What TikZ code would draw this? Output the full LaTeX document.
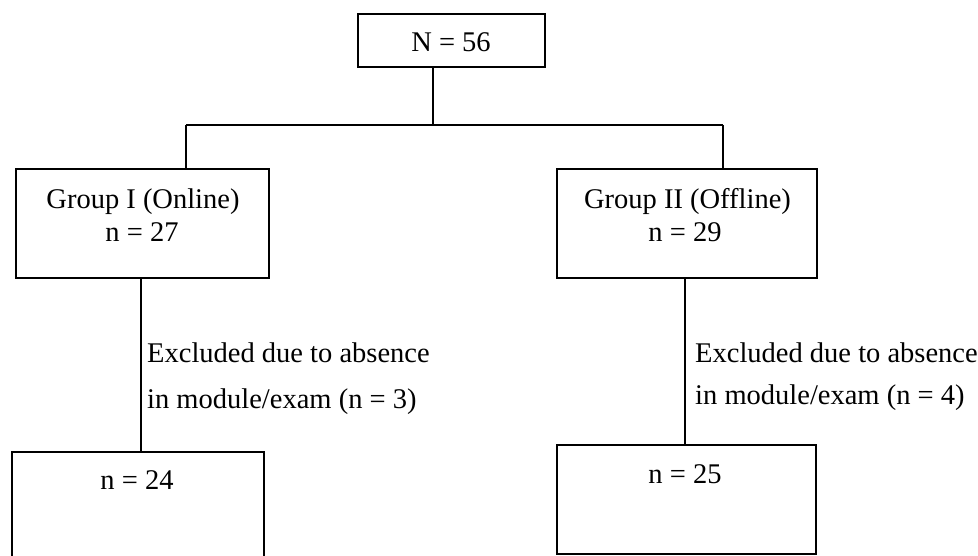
\documentclass[tikz,border=0pt]{standalone}
\usepackage{fontspec}
\setmainfont[Ligatures=CommonOff]{Liberation Serif}
\begin{document}
\begin{tikzpicture}[x=1pt,y=-1pt,
  box/.style={draw,line width=2.2pt,rectangle,inner sep=0pt,fill=none},
  txt/.style={inner sep=0pt,font=\fontsize{28.5}{34}\selectfont},
  link/.style={line width=2.2pt}]
\useasboundingbox (0,0) rectangle (978,556);
% boxes
\node[box,minimum width=187pt,minimum height=53pt] (top) at (451.5,40.5) {};
\node[box,minimum width=253pt,minimum height=109pt] (g1) at (142.5,223.5) {};
\node[box,minimum width=260pt,minimum height=109pt] (g2) at (687,223.5) {};
\node[box,minimum width=252pt,minimum height=112pt] (b1) at (138,508) {};
\node[box,minimum width=259pt,minimum height=109pt] (b2) at (686.5,499.5) {};
% texts
\node[txt] (ttop) at (451,42) {N = 56};
\node[txt] (tg1a) at (143,202) {Group I (Online)};
\node[txt] (tg1b) at (142,232) {n = 27};
\node[txt] (tg2a) at (687.5,202) {Group II (Offline)};
\node[txt] (tg2b) at (685,232) {n = 29};
\node[txt,anchor=west] (ex1a) at (147,353) {Excluded due to absence};
\node[txt,anchor=west] (ex1b) at (147,402) {in module/exam (n = 3)};
\node[txt,anchor=west] (ex2a) at (695,353) {Excluded due to absence};
\node[txt,anchor=west] (ex2b) at (695,398) {in module/exam (n = 4)};
\node[txt] (tb1) at (137,480) {n = 24};
\node[txt] (tb2) at (685,474) {n = 25};
% connectors
\coordinate (jt) at (433,125);
\coordinate (jl) at (186,125);
\coordinate (jr) at (723,125);
\draw[link] (jt |- top.south) -- (jt);
\draw[link] (jl) -- (jr);
\draw[link] (jl) -- (jl |- g1.north);
\draw[link] (jr) -- (jr |- g2.north);
\draw[link] (141,278) coordinate (l1) -- (l1 |- b1.north);
\draw[link] (685,278) coordinate (l2) -- (l2 |- b2.north);
\end{tikzpicture}
\end{document}
